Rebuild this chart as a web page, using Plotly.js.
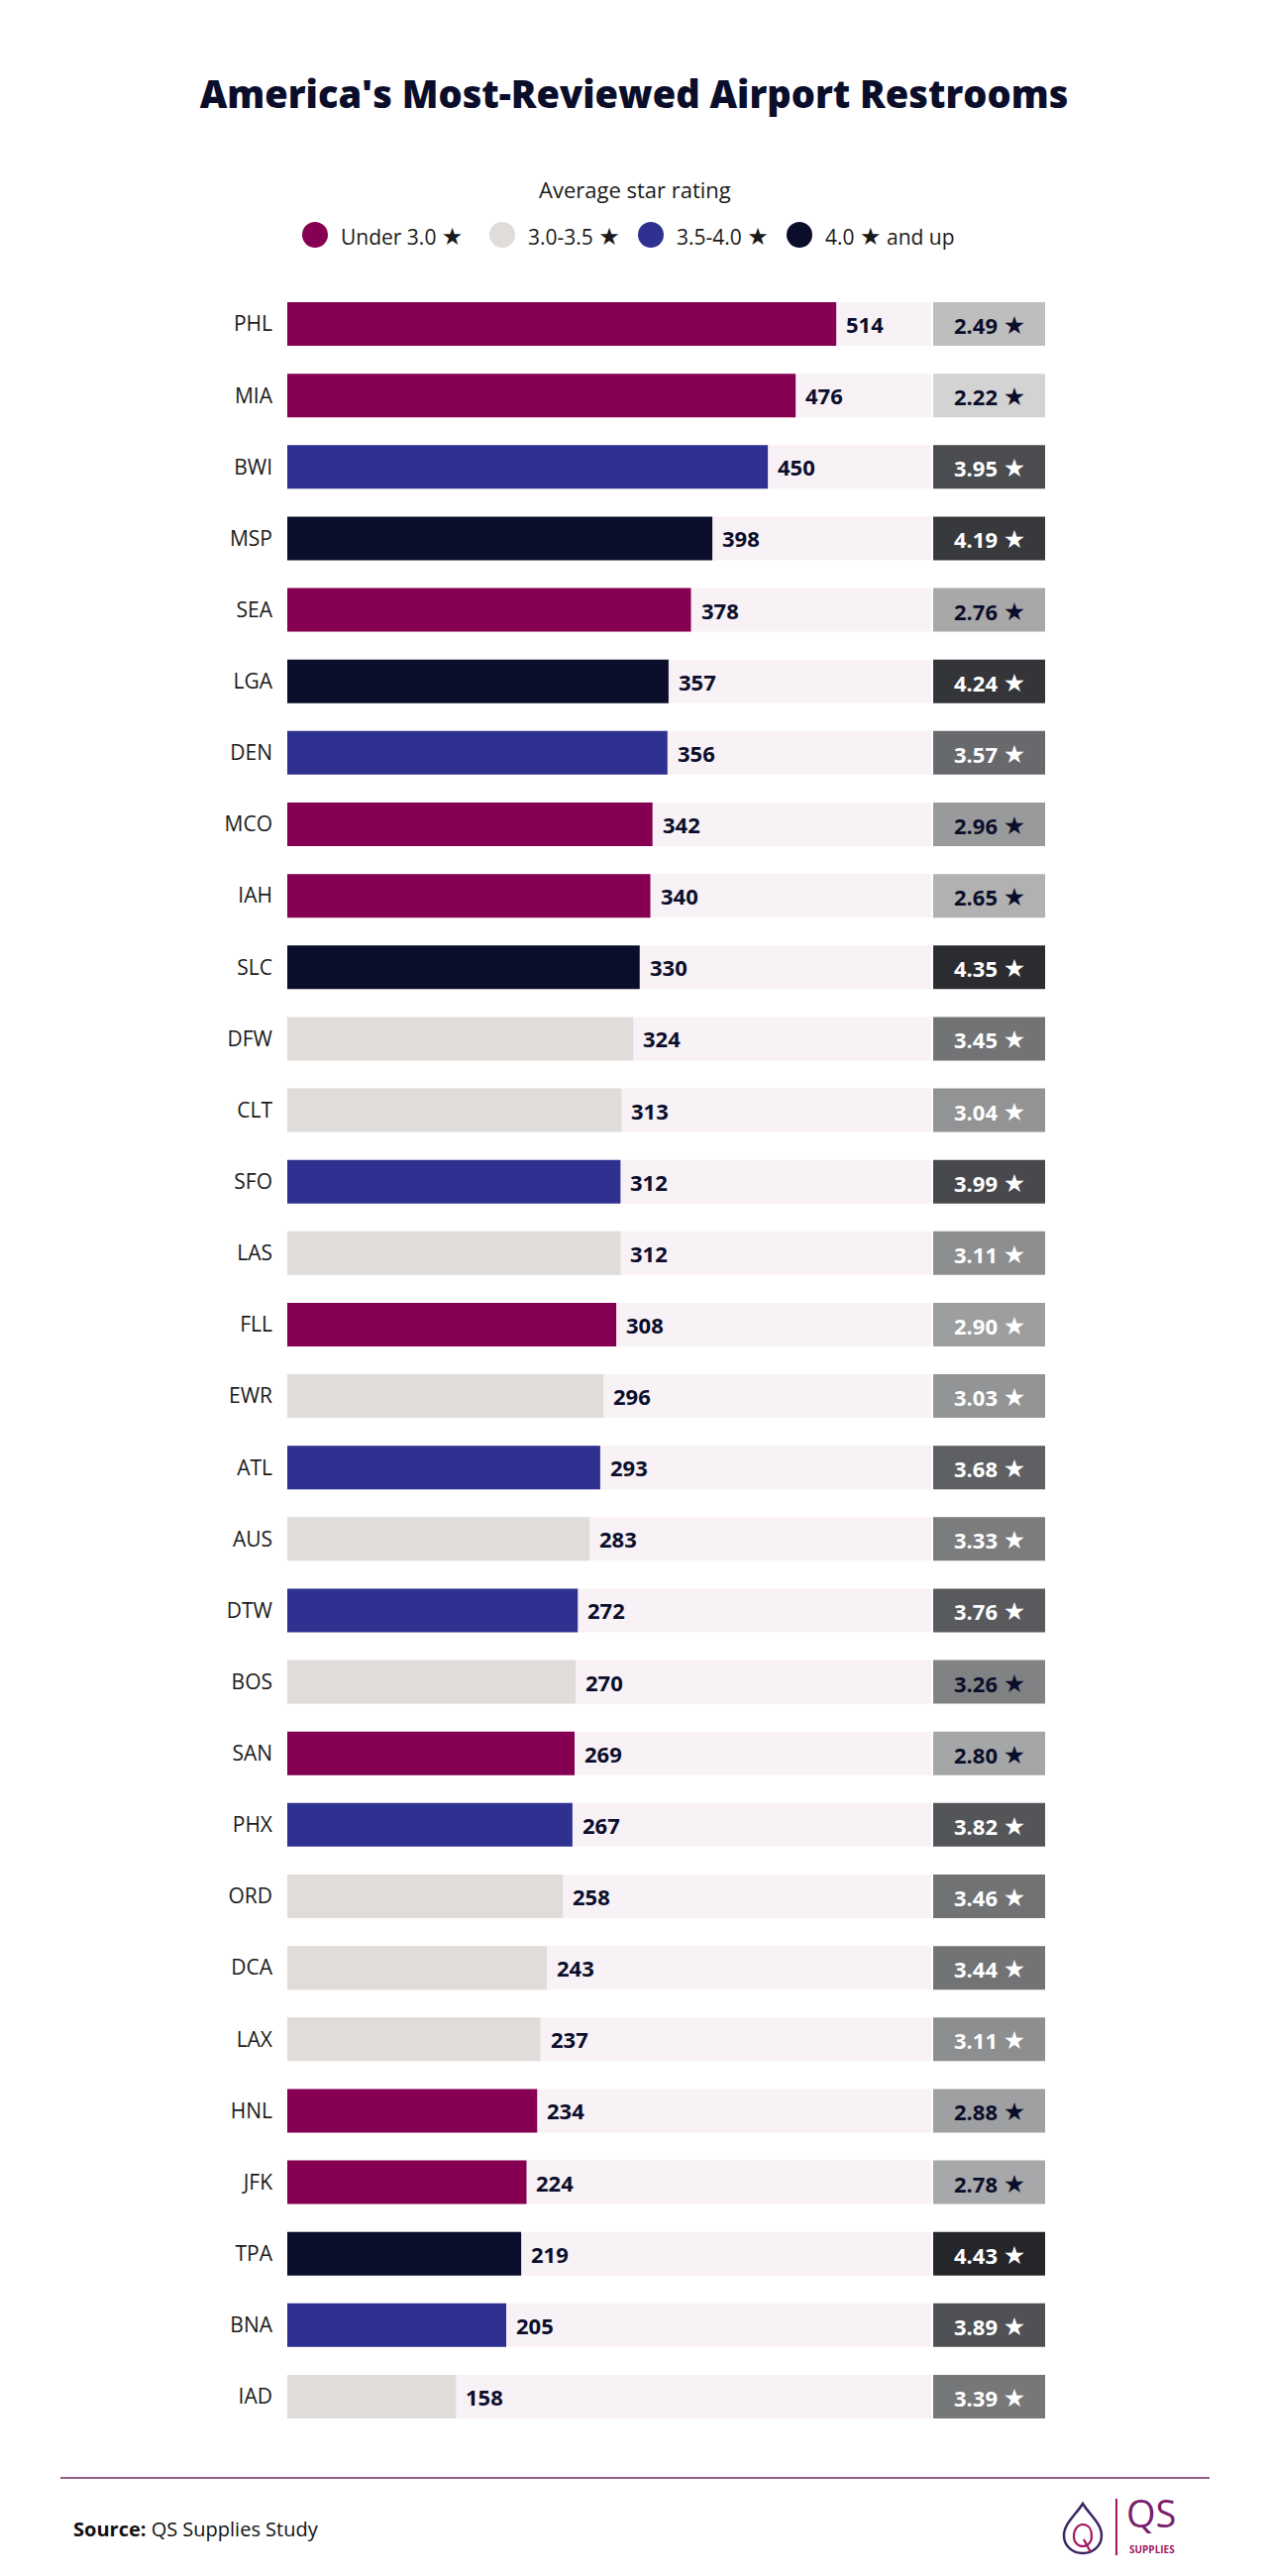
<!DOCTYPE html>
<html>
<head>
<meta charset="utf-8">
<title>America's Most-Reviewed Airport Restrooms</title>
<script src="https://cdn.plot.ly/plotly-3.0.1.min.js"></script>
<style>
  html, body { margin: 0; padding: 0; background: #ffffff; }
  #chart { width: 1280px; height: 2600px; }
</style>
</head>
<body>
<div id="chart"></div>
<script>
// Airports, number of restroom reviews, and average star rating
const airports = ['PHL','MIA','BWI','MSP','SEA','LGA','DEN','MCO','IAH','SLC',
                  'DFW','CLT','SFO','LAS','FLL','EWR','ATL','AUS','DTW','BOS',
                  'SAN','PHX','ORD','DCA','LAX','HNL','JFK','TPA','BNA','IAD'];
const reviews  = [514, 476, 450, 398, 378, 357, 356, 342, 340, 330,
                  324, 313, 312, 312, 308, 296, 293, 283, 272, 270,
                  269, 267, 258, 243, 237, 234, 224, 219, 205, 158];
const ratings  = [2.49, 2.22, 3.95, 4.19, 2.76, 4.24, 3.57, 2.96, 2.65, 4.35,
                  3.45, 3.04, 3.99, 3.11, 2.90, 3.03, 3.68, 3.33, 3.76, 3.26,
                  2.80, 3.82, 3.46, 3.44, 3.11, 2.88, 2.78, 4.43, 3.89, 3.39];

// Rating bands shown in the key
const bandLabels = ['Under 3.0', '3.0-3.5', '3.5-4.0', '4.0|and up'];
const bandColors = ['#850052', '#e0dcd9', '#2e3190', '#0b0e2b'];

// Rating cells whose figures are printed in dark ink
const darkInkCells = new Set(['PHL','MIA','SEA','MCO','IAH','BOS','SAN','HNL','JFK']);

const INK = '#0b0e2b';
const FONT = "'Open Sans', 'DejaVu Sans', sans-serif";
const STAR = size => `<span style="font-size:${size}px">★</span>`;

// Figure geometry
const FIG_W = 1280, FIG_H = 2600;
const M = { l: 290, r: 225, t: 291, b: 145 };
const PW = FIG_W - M.l - M.r;
const PH = FIG_H - M.t - M.b;
const fx = px => (px - M.l) / PW;            // pixel -> paper x
const fy = py => (FIG_H - M.b - py) / PH;    // pixel -> paper y
const P = (x, y) => `${fx(x).toFixed(5)},${fy(y).toFixed(5)}`;

// x scale: review counts, followed by the rating cell column
const X_MAX = 709.6;
const TRACK_END = 603;
const CELL_START = 604.8;
const BAR_W = 0.61;

function bandIndex(r) {
  if (r < 3.0) return 0;
  if (r < 3.5) return 1;
  if (r < 4.0) return 2;
  return 3;
}

// grey of a rating cell: lighter for low ratings, darker for high ones
function cellColor(r) {
  const t = Math.max(0, Math.min(1, (r - 2.2) / (4.45 - 2.2)));
  const g = Math.round(213 - t * 179);
  const b = Math.round(g + t * 6);
  return `rgb(${g},${g + Math.round(t * 2)},${b})`;
}

const barColors = ratings.map(r => bandColors[bandIndex(r)]);

const bars = {
  type: 'bar',
  orientation: 'h',
  y: airports,
  x: reviews,
  width: BAR_W,
  marker: { color: barColors, line: { width: 0 } },
  customdata: ratings,
  hovertemplate: '%{y}: %{x} reviews, %{customdata:.2f} ★<extra></extra>',
  showlegend: false
};

const shapes = [];
const annotations = [];

airports.forEach((code, i) => {
  // light track behind each bar
  shapes.push({
    type: 'rect', layer: 'below', xref: 'x', yref: 'y',
    x0: 0, x1: TRACK_END, y0: i - BAR_W / 2, y1: i + BAR_W / 2,
    fillcolor: '#f8f1f6', line: { width: 0 }
  });
  // rating cell
  shapes.push({
    type: 'rect', layer: 'below', xref: 'x', yref: 'y',
    x0: CELL_START, x1: X_MAX, y0: i - BAR_W / 2, y1: i + BAR_W / 2,
    fillcolor: cellColor(ratings[i]), line: { width: 0 }
  });
  // review count at the end of the bar
  annotations.push({
    xref: 'x', yref: 'y', x: reviews[i], y: code,
    text: `<b>${reviews[i]}</b>`, showarrow: false,
    xanchor: 'left', yanchor: 'middle', xshift: 8,
    font: { family: FONT, size: 22, color: INK }
  });
  // rating figure inside the cell
  annotations.push({
    xref: 'x', yref: 'y', x: (CELL_START + X_MAX) / 2, y: code,
    text: `<b>${ratings[i].toFixed(2)} ${STAR(25)}</b>`, showarrow: false,
    xanchor: 'center', yanchor: 'middle',
    font: { family: FONT, size: 22, color: darkInkCells.has(code) ? INK : '#ffffff' }
  });
});

// Key: heading, dots and labels
annotations.push({
  xref: 'paper', yref: 'paper', x: fx(641), y: fy(191),
  text: 'Average star rating', showarrow: false,
  xanchor: 'center', yanchor: 'middle',
  font: { family: FONT, size: 22, color: '#1a1a1a' }
});
const keyDotX = [318, 507, 657, 807];
bandLabels.forEach((lab, k) => {
  const cx = keyDotX[k], cy = 237, rad = 13;
  const parts = lab.split('|');
  const txt = parts.length > 1 ? `${parts[0]} ${STAR(24)} ${parts[1]}` : `${parts[0]} ${STAR(24)}`;
  shapes.push({
    type: 'circle', xref: 'paper', yref: 'paper',
    x0: fx(cx - rad), x1: fx(cx + rad), y0: fy(cy + rad), y1: fy(cy - rad),
    fillcolor: bandColors[k], line: { width: 0 }
  });
  annotations.push({
    xref: 'paper', yref: 'paper', x: fx(cx + 24), y: fy(cy),
    text: txt, showarrow: false, xanchor: 'left', yanchor: 'middle',
    font: { family: FONT, size: 21, color: '#1a1a1a' }
  });
});

// Footer rule and source note
shapes.push({
  type: 'line', xref: 'paper', yref: 'paper',
  x0: fx(61), x1: fx(1221), y0: fy(2501), y1: fy(2501),
  line: { color: '#93608c', width: 2 }
});
annotations.push({
  xref: 'paper', yref: 'paper', x: fx(72), y: fy(2552),
  text: '<b>Source:</b> QS Supplies Study', showarrow: false,
  xanchor: 'left', yanchor: 'middle',
  font: { family: FONT, size: 20, color: '#111111' }
});

// QS Supplies logo: drop outline with inner Q, divider and wordmark
shapes.push({
  type: 'path', xref: 'paper', yref: 'paper',
  path: `M${P(1093,2527)} C${P(1099,2537)} ${P(1112,2547)} ${P(1112,2559)} ` +
        `C${P(1112,2570)} ${P(1103,2577)} ${P(1093,2577)} ` +
        `C${P(1083,2577)} ${P(1074,2570)} ${P(1074,2559)} ` +
        `C${P(1074,2547)} ${P(1087,2537)} ${P(1093,2527)} Z`,
  line: { color: '#3a2463', width: 2.5 }
});
shapes.push({
  type: 'path', xref: 'paper', yref: 'paper',
  path: `M${P(1093,2548)} C${P(1099,2548)} ${P(1102,2553)} ${P(1102,2560)} ` +
        `C${P(1102,2566)} ${P(1098,2570)} ${P(1093,2570)} ` +
        `C${P(1088,2570)} ${P(1084,2566)} ${P(1084,2560)} ` +
        `C${P(1084,2553)} ${P(1088,2548)} ${P(1093,2548)} Z ` +
        `M${P(1094,2563)} L${P(1101,2576)}`,
  line: { color: '#a3165f', width: 2.2 }
});
shapes.push({
  type: 'line', xref: 'paper', yref: 'paper',
  x0: fx(1127), x1: fx(1127), y0: fy(2522), y1: fy(2579),
  line: { color: '#a3165f', width: 2 }
});
annotations.push({
  xref: 'paper', yref: 'paper', x: fx(1136), y: fy(2563),
  text: 'QS', showarrow: false, xanchor: 'left', yanchor: 'bottom',
  borderpad: 0,
  font: { family: FONT, size: 38, color: '#7b1f6e' }
});
annotations.push({
  xref: 'paper', yref: 'paper', x: fx(1139), y: fy(2565),
  text: '<b>SUPPLIES</b>', showarrow: false, xanchor: 'left', yanchor: 'top',
  borderpad: 0,
  font: { family: FONT, size: 10, color: '#a3165f' }
});

const layout = {
  width: FIG_W, height: FIG_H,
  margin: M,
  paper_bgcolor: '#ffffff',
  plot_bgcolor: '#ffffff',
  title: {
    text: "America's Most-Reviewed Airport Restrooms",
    xref: 'container', yref: 'container', x: 0.5, y: 1 - 96 / FIG_H,
    xanchor: 'center', yanchor: 'middle',
    font: { family: FONT, size: 38, weight: 800, color: INK }
  },
  xaxis: {
    range: [0, X_MAX], visible: false, fixedrange: true
  },
  yaxis: {
    type: 'category',
    range: [airports.length - 0.5, -0.5],
    showgrid: false, zeroline: false, showline: false,
    ticks: '', ticklabelstandoff: 14,
    tickfont: { family: FONT, size: 21, color: '#1a1a1a' },
    fixedrange: true
  },
  showlegend: false,
  shapes: shapes,
  annotations: annotations
};

Plotly.newPlot('chart', [bars], layout, { displayModeBar: false, responsive: false });
</script>
</body>
</html>
